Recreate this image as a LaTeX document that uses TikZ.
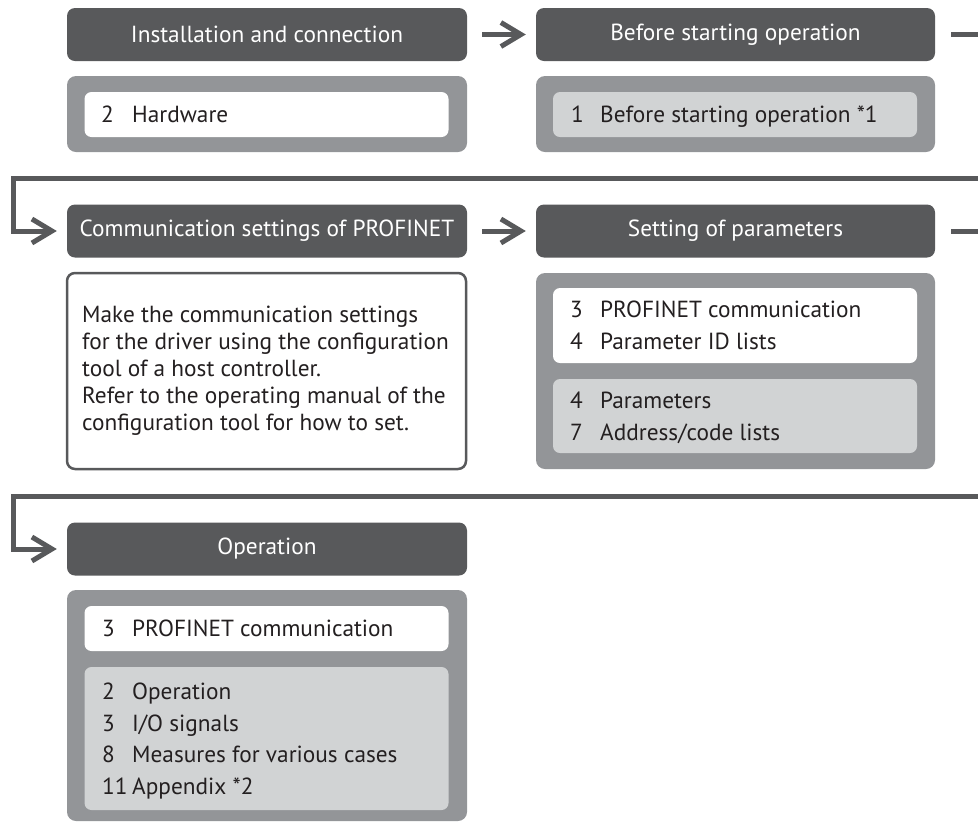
\documentclass[tikz,border=0pt]{standalone}
\usepackage{fontspec}
\setmainfont{PT Sans}
\usetikzlibrary{arrows.meta}
\definecolor{hdr}{HTML}{58595B}
\definecolor{bodyg}{HTML}{939598}
\definecolor{lite}{HTML}{D1D3D4}
\definecolor{txt}{HTML}{231F20}
\newcommand{\fsz}{\fontsize{23.3}{27}\selectfont}
\begin{document}
\begin{tikzpicture}[x=1pt,y=-1pt,
  hdrbox/.style={fill=hdr, rounded corners=8pt, minimum height=53pt, minimum width=400pt, text=white, font=\fsz, inner sep=0pt},
  bodybox/.style={fill=bodyg, rounded corners=9pt, inner sep=0pt, minimum width=400pt},
  whitebox/.style={fill=white, rounded corners=7pt, inner sep=0pt, minimum width=364pt},
  litebox/.style={fill=lite, rounded corners=7pt, inner sep=0pt, minimum width=364pt},
  num/.style={anchor=base west, inner sep=0pt, text=txt, font=\fsz},
  itm/.style={anchor=base west, inner sep=0pt, text=txt, font=\fsz},
  conn/.style={draw=hdr, line width=5pt, -{Straight Barb[length=20pt,width=24pt]}},
]
\useasboundingbox (0,0) rectangle (978,823);
\clip (0,0) rectangle (978,823);

% headers
\node[hdrbox] (h1) at (267,34.5) {Installation and connection};
\node[hdrbox, minimum width=399pt] (h2) at (735.5,34.5) {Before starting operation};
\node[hdrbox] (h3) at (267,231) {Communication settings of PROFINET};
\node[hdrbox, minimum width=399pt] (h4) at (735.5,231) {Setting of parameters};
\node[hdrbox] (h5) at (267,549) {Operation};

% row 1 bodies
\node[bodybox, minimum height=76pt] (b1) at (267,114) {};
\node[whitebox, minimum height=45pt] (w1) at (266.5,114.5) {};
\node[num] (n1) at (101,122.7) {2};
\node[itm] (t1) at (132,122.7) {Hardware};

\node[bodybox, minimum width=399pt, minimum height=76pt] (b2) at (735.5,114) {};
\node[litebox, minimum height=45pt] (l2) at (735,114.5) {};
\node[num] (n2) at (571,122.7) {1};
\node[itm] (t2) at (600,122.7) {Before starting operation *1};

% row 2 left
\node[draw=hdr, line width=2.5pt, fill=white, rounded corners=8pt, minimum width=399pt, minimum height=196pt, inner sep=0pt] (pbox) at (266.5,371) {};
\node[anchor=west, inner sep=0pt, align=left, text=txt, font=\fsz] (ptext) at (82,371) {Make the communication settings\\for the driver using the configuration\\tool of a host controller.\\Refer to the operating manual of the\\configuration tool for how to set.};

% row 2 right
\node[bodybox, minimum width=399pt, minimum height=196pt] (b4) at (735.5,371) {};
\node[whitebox, minimum height=75pt] (w4) at (735,325.5) {};
\node[num] (n41) at (570,317.9) {3};
\node[itm] (t41) at (600,317.9) {PROFINET communication};
\node[num] (n42) at (570,349.4) {4};
\node[itm] (t42) at (600,349.4) {Parameter ID lists};
\node[litebox, minimum height=74pt] (l4) at (735,416) {};
\node[num] (n43) at (570,408.5) {4};
\node[itm] (t43) at (600,408.5) {Parameters};
\node[num] (n44) at (570,440) {7};
\node[itm] (t44) at (600,440) {Address/code lists};

% row 3
\node[bodybox, minimum height=231pt] (b5) at (267,705.5) {};
\node[whitebox, minimum height=45pt] (w5) at (266.5,628.5) {};
\node[num] (n51) at (102,636.7) {3};
\node[itm] (t51) at (132,636.7) {PROFINET communication};
\node[litebox, minimum height=143pt] (l5) at (266.5,738.5) {};
\node[num] (n52) at (102,699.5) {2};
\node[itm] (t52) at (132,699.5) {Operation};
\node[num] (n53) at (102,731) {3};
\node[itm] (t53) at (132,731) {I/O signals};
\node[num] (n54) at (102,762.5) {8};
\node[itm] (t54) at (132,762.5) {Measures for various cases};
\node[num] (n55) at (102,794) {11};
\node[itm] (t55) at (132,794) {Appendix *2};

% connectors
\draw[conn, shorten <=15pt, shorten >=10pt] (h1.east) -- (h2.west);
\draw[conn, shorten <=15pt, shorten >=10pt] (h3.east) -- (h4.west);
\draw[conn, shorten <=16pt, shorten >=10pt] (h2.east) -- (995,34.5) -- (995,178.5) -- (13.5,178.5) |- (h3.west);
\draw[conn, shorten <=16pt, shorten >=10pt] (h4.east) -- (995,231) -- (995,496.5) -- (13.5,496.5) |- (h5.west);
\end{tikzpicture}
\end{document}
